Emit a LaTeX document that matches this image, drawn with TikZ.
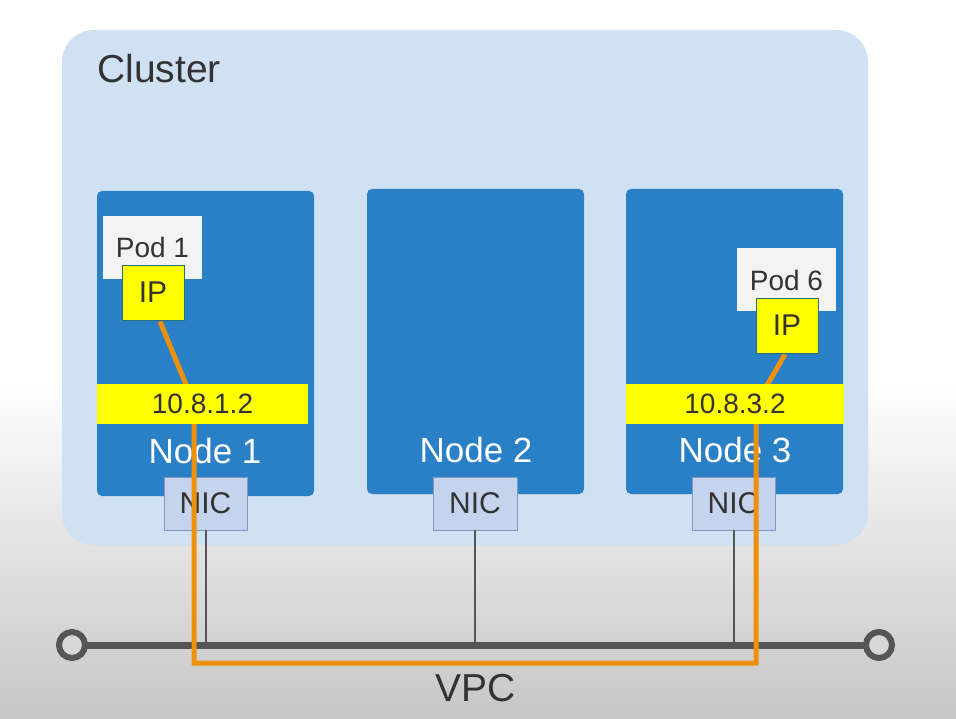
\documentclass[tikz,border=0pt]{standalone}
\usepackage{fontspec}
\setmainfont{Liberation Sans}
\definecolor{clusterbg}{RGB}{207,225,242}
\definecolor{nodeblue}{RGB}{41,128,199}
\definecolor{podwhite}{RGB}{243,243,243}
\definecolor{ipyellow}{RGB}{255,255,0}
\definecolor{ipborder}{RGB}{40,110,120}
\definecolor{nicfill}{RGB}{196,212,238}
\definecolor{nicborder}{RGB}{130,150,190}
\definecolor{busgray}{RGB}{85,85,85}
\definecolor{vpcorange}{RGB}{238,145,10}
\definecolor{txtdark}{RGB}{51,51,51}
\definecolor{bggray}{RGB}{198,198,198}
\begin{document}
\begin{tikzpicture}[x=1pt,y=-1pt,
  knode/.style={draw=none,fill=nodeblue,rounded corners=5pt,minimum width=217pt,minimum height=305pt,inner sep=0pt},
  nlabel/.style={text=white,font=\fontsize{35}{35}\selectfont,inner sep=0pt},
  band/.style={fill=ipyellow,draw=none,minimum height=40pt,inner sep=0pt,text=txtdark,font=\fontsize{28}{28}\selectfont},
  podbox/.style={fill=podwhite,draw=none,minimum width=99pt,minimum height=63pt,inner sep=0pt,text=txtdark,font=\fontsize{28}{28}\selectfont},
  ipbox/.style={fill=ipyellow,draw=ipborder,line width=0.8pt,minimum width=62pt,minimum height=55pt,inner sep=0pt,text=txtdark,font=\fontsize{30}{30}\selectfont},
  nicbox/.style={fill=nicfill,draw=nicborder,line width=0.8pt,minimum width=83pt,minimum height=53pt,inner sep=0pt,text=txtdark,font=\fontsize{30}{30}\selectfont},
  drop/.style={draw=busgray,line width=2pt},
  vpcline/.style={draw=vpcorange,line width=5pt,line join=miter},
  endring/.style={circle,draw=busgray,line width=6pt,fill=bggray!70,minimum size=26pt,inner sep=0pt}
]
\useasboundingbox (0,0) rectangle (956,719);
% background
\fill[white] (0,0) rectangle (956,380);
\shade[top color=white,bottom color=bggray] (0,380) rectangle (956,719);
% cluster
\node[fill=clusterbg,rounded corners=32pt,minimum width=806pt,minimum height=515pt,inner sep=0pt] (cluster) at (465,287.5) {};
\node[anchor=base west,text=txtdark,font=\fontsize{39}{39}\selectfont,inner sep=0pt] (clabel) at (97,83) {Cluster};
% nodes
\node[knode] (n1) at (205.5,343.5) {};
\node[knode] (n2) at (475.5,341.5) {};
\node[knode] (n3) at (734.5,341.5) {};
\node[nlabel] (n1l) at (205,451) {Node 1};
\node[nlabel] (n2l) at (476,450) {Node 2};
\node[nlabel] (n3l) at (735,450) {Node 3};
% NICs
\node[nicbox] (nic1) at (205.5,503.5) {NIC};
\node[nicbox,minimum width=84pt] (nic2) at (475,503.5) {NIC};
\node[nicbox] (nic3) at (733.5,503.5) {NIC};
% bus
\coordinate (busL) at (72,645);
\coordinate (busR) at (879,645);
\draw[busgray,line width=7pt] (busL) -- (busR);
\node[endring] (ringL) at (busL) {};
\node[endring] (ringR) at (busR) {};
\draw[drop] (nic1.south) -- (nic1.south |- busL);
\draw[drop] (nic2.south) -- (nic2.south |- busL);
\draw[drop] (nic3.south) -- (nic3.south |- busL);
% pods and IPs
\node[podbox,text depth=0pt] (pod1) at (152.5,247.5) {};
\node[text=txtdark,font=\fontsize{28}{28}\selectfont,inner sep=0pt] (pod1t) at (152.5,247) {Pod 1};
\node[podbox] (pod6) at (786.5,279.5) {};
\node[text=txtdark,font=\fontsize{28}{28}\selectfont,inner sep=0pt] (pod6t) at (786.5,280) {Pod 6};
\node[ipbox] (ip1) at (153,292.5) {IP};
\node[ipbox] (ip6) at (787,325.5) {IP};
% VPC path
\coordinate (o1) at (194,404);
\coordinate (o2) at (194,663);
\coordinate (o3) at (756,663);
\coordinate (o4) at (756,404);
\draw[vpcline] ([xshift=7pt,yshift=-1pt]ip1.south) -- (o1) -- (o2) -- (o3) -- (o4) -- ([xshift=-2pt,yshift=-1pt]ip6.south);
% bands
\node[band,minimum width=211pt] (b1) at (202.5,404) {10.8.1.2};
\node[band,minimum width=218pt] (b3) at (735,404) {10.8.3.2};
% redraw IPs above line start
\node[ipbox] at (ip1) {IP};
\node[ipbox] at (ip6) {IP};
% VPC label
\node[text=txtdark,font=\fontsize{39}{39}\selectfont,inner sep=0pt] (vpc) at (476,688) {VPC};
\end{tikzpicture}
\end{document}
